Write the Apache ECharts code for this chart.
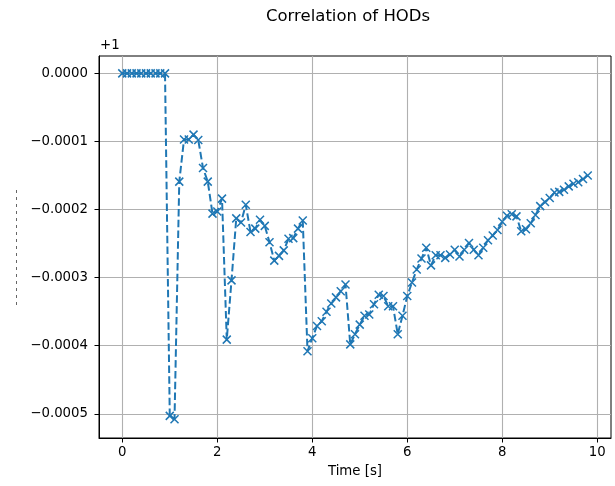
<!DOCTYPE html>
<html>
<head>
<meta charset="utf-8">
<script src="https://cdn.jsdelivr.net/npm/echarts@6/dist/echarts.min.js"></script>
<style>html,body{margin:0;padding:0;background:#fff}#c{width:615px;height:486px}</style>
</head>
<body>
<div id="c"></div>
<script>
const times = [0.0,0.1,0.2,0.3,0.4,0.5,0.6,0.7,0.8,0.9,
  1.0,1.1,1.2,1.3,1.4,1.5,1.6,1.7,1.8,1.9,
  2.0,2.1,2.2,2.3,2.4,2.5,2.6,2.7,2.8,2.9,
  3.0,3.1,3.2,3.3,3.4,3.5,3.6,3.7,3.8,3.9,
  4.0,4.1,4.2,4.3,4.4,4.5,4.6,4.7,4.8,4.9,
  5.0,5.1,5.2,5.3,5.4,5.5,5.6,5.7,5.8,5.9,
  6.0,6.1,6.2,6.3,6.4,6.5,6.6,6.7,6.8,6.9,
  7.0,7.1,7.2,7.3,7.4,7.5,7.6,7.7,7.8,7.9,
  8.0,8.1,8.2,8.3,8.4,8.5,8.6,8.7,8.8,8.9,
  9.0,9.1,9.2,9.3,9.4,9.5,9.6,9.7,9.8];
// correlation minus 1 (axis offset +1)
const corrMinusOne = [0,0,0,0,0,0,0,0,0,0,
  -5.03e-4,-5.08e-4,-1.59e-4,-0.97e-4,-0.97e-4,-0.90e-4,-0.98e-4,-1.39e-4,-1.59e-4,-2.06e-4,
  -2.03e-4,-1.84e-4,-3.91e-4,-3.04e-4,-2.13e-4,-2.19e-4,-1.93e-4,-2.33e-4,-2.28e-4,-2.15e-4,
  -2.24e-4,-2.48e-4,-2.75e-4,-2.68e-4,-2.60e-4,-2.43e-4,-2.42e-4,-2.28e-4,-2.16e-4,-4.08e-4,
  -3.89e-4,-3.71e-4,-3.64e-4,-3.50e-4,-3.38e-4,-3.29e-4,-3.20e-4,-3.10e-4,-3.98e-4,-3.83e-4,
  -3.69e-4,-3.56e-4,-3.54e-4,-3.39e-4,-3.25e-4,-3.27e-4,-3.42e-4,-3.42e-4,-3.83e-4,-3.56e-4,
  -3.27e-4,-3.07e-4,-2.88e-4,-2.72e-4,-2.56e-4,-2.82e-4,-2.67e-4,-2.67e-4,-2.71e-4,-2.66e-4,
  -2.59e-4,-2.69e-4,-2.59e-4,-2.49e-4,-2.59e-4,-2.67e-4,-2.56e-4,-2.45e-4,-2.38e-4,-2.30e-4,
  -2.18e-4,-2.09e-4,-2.07e-4,-2.10e-4,-2.32e-4,-2.29e-4,-2.20e-4,-2.08e-4,-1.95e-4,-1.89e-4,
  -1.83e-4,-1.75e-4,-1.74e-4,-1.71e-4,-1.66e-4,-1.62e-4,-1.60e-4,-1.55e-4,-1.50e-4];
const xTicks = [0,2,4,6,8,10];
const yTicks = [0,-0.0001,-0.0002,-0.0003,-0.0004,-0.0005];
const yOffsetLabel = '+1';
const titleText = 'Correlation of HODs';
const xName = 'Time [s]';

const chart = echarts.init(document.getElementById('c'), null, {renderer:'canvas'});
const font = 'DejaVu Sans';
const fmtY = v => (Math.abs(v) < 1e-12 ? '0.0000' : (v < 0 ? '\u2212' : '') + Math.abs(v).toFixed(4));
chart.setOption({
  animation: false,
  backgroundColor: '#fff',
  title: {text: titleText, left: 261, top: 3,
    textStyle: {fontFamily: font, fontSize: 16.5, fontWeight: 'normal', color: '#000'}},
  graphic: [
    {type:'text', left: 100, top: 39, style:{text: yOffsetLabel, font: '13.3px "DejaVu Sans"', fill:'#000'}},
    {type:'line', shape:{x1:16.5,y1:190,x2:16.5,y2:305}, style:{stroke:'#666', lineWidth:1, lineDash:[3,4]}}
  ],
  grid: {left: 99, top: 56, right: 4, bottom: 48, show: true, borderColor: '#000', borderWidth: 1, backgroundColor:'transparent'},
  xAxis: {type:'value', min: -0.49, max: 10.29,
    name: xName, nameLocation:'middle', nameGap: 27,
    nameTextStyle:{fontFamily: font, fontSize: 13.3, color:'#000'},
    axisLine:{show:true, onZero:false, lineStyle:{color:'#000', width:1}},
    axisTick:{show:true, length:4.5, lineStyle:{color:'#000', width:1}, customValues: xTicks},
    axisLabel:{fontFamily: font, fontSize: 13.3, color:'#000', margin: 8, customValues: xTicks},
    splitLine:{show:true, lineStyle:{color:'#b0b0b0', width:1.1}}},
  yAxis: {type:'value', min: -0.0005355, max: 0.0000255,
    axisLine:{show:true, onZero:false, lineStyle:{color:'#000', width:1}},
    axisTick:{show:true, length:4.5, lineStyle:{color:'#000', width:1}, customValues: yTicks},
    axisLabel:{fontFamily: font, fontSize: 13.3, color:'#000', margin: 11, customValues: yTicks, formatter: fmtY},
    splitLine:{show:true, lineStyle:{color:'#b0b0b0', width:1.1}}},
  series: [{
    type:'line',
    data: times.map((t,i)=>[t, corrMinusOne[i]]),
    symbol: 'path://M0,0L10,10M10,0L0,10',
    symbolSize: 8,
    showAllSymbol: true,
    lineStyle:{color:'#1f77b4', width:2, type:[7.5,3.3]},
    itemStyle:{color:'rgba(0,0,0,0)', borderColor:'#1f77b4', borderWidth:1.5},
    emphasis:{disabled:true}
  }]
});
</script>
</body>
</html>
